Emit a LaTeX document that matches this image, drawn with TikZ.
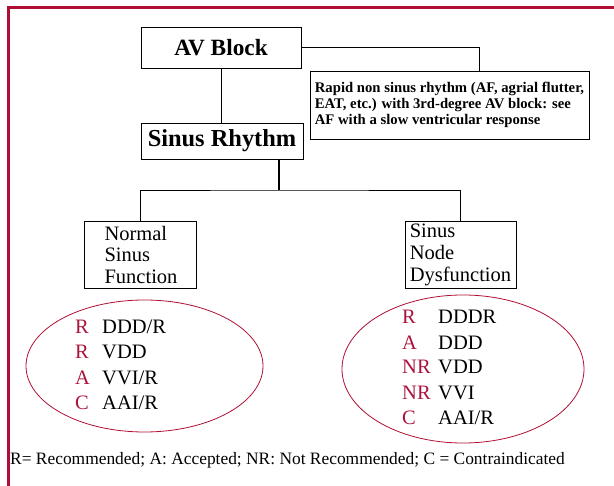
\documentclass[tikz,border=0pt]{standalone}
\usepackage{fontspec}
\setmainfont{Liberation Serif}
\usetikzlibrary{shapes.geometric}
\definecolor{framered}{RGB}{175,15,50}
\definecolor{codered}{RGB}{170,20,60}
\begin{document}
\begin{tikzpicture}[x=1pt,y=-1pt,
  box/.style={draw, line width=0.8pt, inner sep=0pt},
  conn/.style={line width=0.8pt},
  oval/.style={ellipse, draw=framered, line width=0.8pt, inner sep=0pt},
  lab/.style={anchor=base west, inner sep=0pt, font=\fontsize{20.5}{22}\selectfont},
  code/.style={lab, text=codered}]
\useasboundingbox (0,0) rectangle (614,486);
% frame
\draw[framered, line width=3pt] (8.5,490) -- (8.5,7.2) -- (620,7.2);
% boxes
\node[box, minimum width=160pt, minimum height=41pt, font=\bfseries\fontsize{23.3}{26}\selectfont] (av) at (221,47.5) {AV Block};
\node[box, minimum width=162pt, minimum height=36pt, font=\bfseries\fontsize{24.4}{27}\selectfont] (sr) at (222,141) {Sinus Rhythm};
\node[box, minimum width=279pt, minimum height=68pt, align=left, inner xsep=4pt, font=\bfseries\fontsize{14.7}{16}\selectfont] (rapid) at (449.5,105)
  {Rapid non sinus rhythm (AF, agrial flutter,\\EAT, etc.) with 3rd-degree AV block: see\\AF with a slow ventricular response};
\node[box, minimum width=112pt, minimum height=67pt, align=left, font=\fontsize{20.5}{21.5}\selectfont] (nsf) at (140,254.5)
  {\hspace*{2pt}Normal\\\hspace*{2pt}Sinus\\\hspace*{2pt}Function};
\node[box, minimum width=111pt, minimum height=67pt, align=left, font=\fontsize{20.5}{22}\selectfont] (snd) at (460.5,254.5)
  {Sinus\\Node\\Dysfunction};
% connectors
\coordinate (j) at (279,190);
\draw[conn] (av.south) -- (av.south |- sr.north);
\draw[conn] (av.east) -| ([xshift=29.5pt]rapid.north);
\draw[conn, line width=1.3pt] ([xshift=57pt]sr.south) -- (j);
\draw[conn] (nsf.north) |- (j) -| (snd.north);
% ellipses
\node[oval, minimum width=237pt, minimum height=132pt] (e1) at (144.5,366) {};
\node[oval, minimum width=242pt, minimum height=148pt] (e2) at (463,369) {};
% left ellipse entries
\node[code] (l1c) at (75,334) {R};  \node[lab] (l1t) at (102,334) {DDD/R};
\node[code] (l2c) at (75,359) {R};  \node[lab] (l2t) at (102,359) {VDD};
\node[code] (l3c) at (75,385) {A};  \node[lab] (l3t) at (102,385) {VVI/R};
\node[code] (l4c) at (75,410) {C};  \node[lab] (l4t) at (102,410) {AAI/R};
% right ellipse entries
\node[code] (r1c) at (402,324) {R};  \node[lab] (r1t) at (438,324) {DDDR};
\node[code] (r2c) at (402,350) {A};  \node[lab] (r2t) at (438,350) {DDD};
\node[code] (r3c) at (402,374) {NR}; \node[lab] (r3t) at (438,374) {VDD};
\node[code] (r4c) at (402,400) {NR}; \node[lab] (r4t) at (438,400) {VVI};
\node[code] (r5c) at (402,425) {C};  \node[lab] (r5t) at (438,425) {AAI/R};
% footer
\node[anchor=base west, inner sep=0pt, font=\fontsize{17.4}{20}\selectfont] (legend) at (10,465)
  {R= Recommended; A: Accepted; NR: Not Recommended; C = Contraindicated};
\end{tikzpicture}
\end{document}
